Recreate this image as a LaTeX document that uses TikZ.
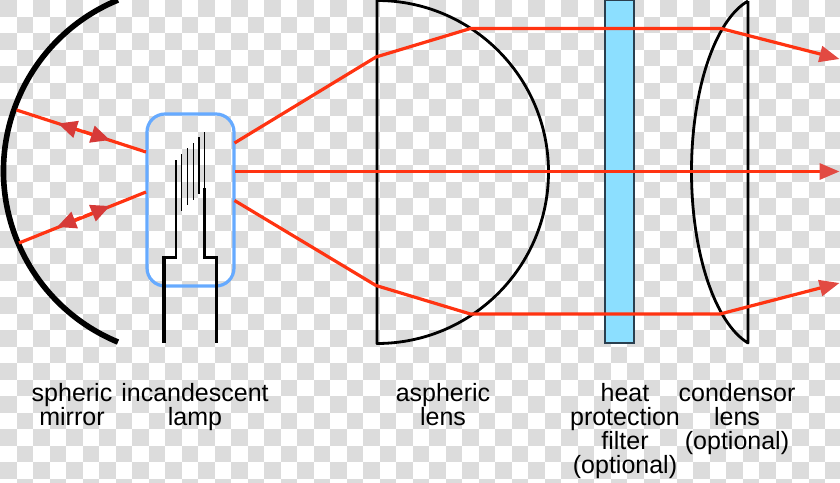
\documentclass[tikz,border=0pt]{standalone}
\usepackage{fontspec}
\setmainfont{Liberation Sans}
\usetikzlibrary{arrows.meta}
\definecolor{checkgray}{HTML}{DCDCDC}
\definecolor{rayred}{HTML}{FF3311}
\definecolor{headred}{HTML}{D63A38}
\definecolor{tipred}{HTML}{E24A42}
\definecolor{lampblue}{HTML}{66AAFF}
\definecolor{filterblue}{HTML}{8CDFFF}
\definecolor{filteredge}{HTML}{2A3F4F}

\begin{document}
\begin{tikzpicture}[
  x=1pt, y=-1pt,
  lens/.style={draw, line width=2.8pt, line join=round},
  ray/.style={draw=rayred, line width=3.2pt, line join=round},
  midarrow/.style={ray, shorten <=70pt, -{Triangle[length=19pt, width=17pt, color=headred]}},
  endarrow/.style={ray, -{Triangle[length=20pt, width=16pt, color=tipred]}},
  lampbox/.style={draw=lampblue, line width=3.2pt, rounded corners=18pt, inner sep=0pt,
    outer sep=0pt, minimum width=87pt, minimum height=172pt},
  filterbar/.style={draw=filteredge, fill=filterblue, line width=1.5pt, inner sep=0pt,
    outer sep=0pt, minimum width=29pt, minimum height=343pt},
  filament/.style={draw, line width=1.4pt},
  lead/.style={draw, line width=2.6pt, line join=miter},
  leadpin/.style={draw, line width=3.6pt},
  caption/.style={align=center, inner sep=0pt, anchor=north,
    font=\fontsize{25}{24}\selectfont}
]
\useasboundingbox (0,0) rectangle (840,482);
\foreach \col in {0,...,50}
  \foreach \row in {0,...,29} {
    \ifodd\numexpr\col+\row\relax\else
      \fill[checkgray] (16.5*\col,16.5*\row) rectangle ++(16.5,16.5);
    \fi
  }

\draw[line width=5.6pt] (118,0) arc[start angle=247.6, end angle=112.4, radius=185];
\node[filterbar] (filter) at (619.5,171.5) {};
\draw[lens] (377,343) -- (377,0.5) arc[start angle=270, end angle=450, radius=171.5] -- cycle;
\draw[lens] (748,1) -- (748,343) .. controls (715,323) and (691.5,253) .. (691.5,171.5)
  .. controls (691.5,90) and (715,20) .. (748,1);
\node[lampbox] (lamp) at (190.5,200) {};

\foreach \xa/\ya/\yb in {176/160/217, 181.7/154/211, 187.5/148/205, 193.2/143/200, 199/137/194, 204.7/132/188}
  \draw[filament] (\xa,\ya) -- (\xa,\yb);
\draw[lead] (176,217) -- (176,257.5) -- (164,257.5);
\draw[lead] (204.7,188) -- (204.7,257.5) -- (216.5,257.5);
\draw[leadpin] (164,256) -- (164,343);
\draw[leadpin] (216.5,256) -- (216.5,343);

\coordinate (mirrortop) at (16.5,110);
\coordinate (mirrorlow) at (19,243);
\coordinate (lamptop) at (146,152);
\coordinate (lamplow) at (146,192);
\draw[ray] (mirrortop) -- (lamptop);
\draw[ray] (mirrorlow) -- (lamplow);
\coordinate (tipa) at (58,123.5);
\coordinate (tipb) at (110,140);
\coordinate (tipc) at (57,227);
\coordinate (tipd) at (110,206);
\draw[midarrow] (lamptop) -- (tipa);
\draw[midarrow] (mirrortop) -- (tipb);
\draw[midarrow] (lamplow) -- (tipc);
\draw[midarrow] (mirrorlow) -- (tipd);

\coordinate (outtop) at (234.5,143);
\coordinate (outmid) at (235,171.5);
\coordinate (outlow) at (234.5,200.5);
\coordinate (endtop) at (839.5,59);
\coordinate (endmid) at (839.5,171.5);
\coordinate (endlow) at (839.5,283);
\draw[endarrow] (outtop) -- (376,57) -- (470.5,28.5) -- (721,28.5) -- (endtop);
\draw[endarrow] (outmid) -- (endmid);
\draw[endarrow] (outlow) -- (376,285.5) -- (470.5,314) -- (720,314) -- (endlow);

\node[caption] (mirrorcap) at (72,383) {spheric\\mirror};
\node[caption] (lampcap) at (195,383) {incandescent\\lamp};
\node[caption] (lenscap) at (443,383) {aspheric\\lens};
\node[caption] (filtercap) at (625,383) {heat\\protection\\filter\\(optional)};
\node[caption] (condensorcap) at (737,383) {condensor\\lens\\(optional)};
\end{tikzpicture}
\end{document}
